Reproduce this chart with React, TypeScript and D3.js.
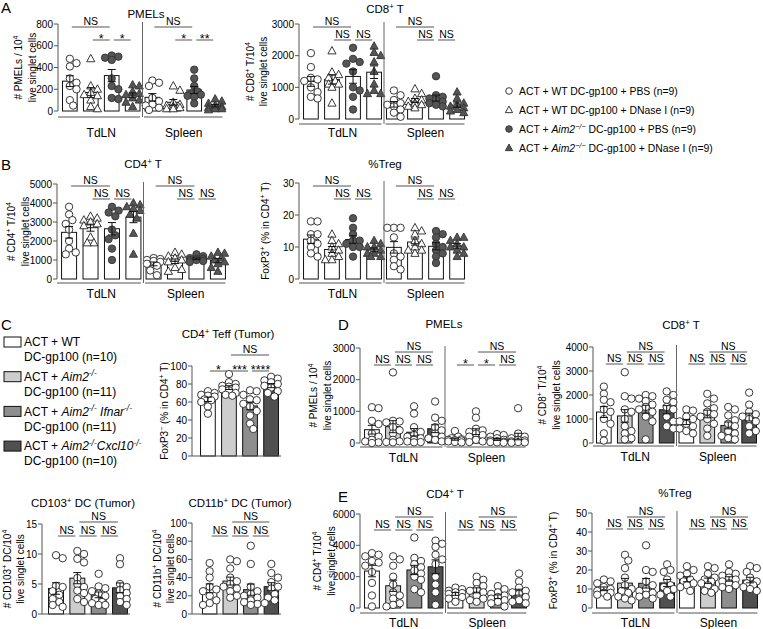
import React from 'react';
import * as d3 from 'd3';

const FONT = '"Liberation Sans", Arial, Helvetica, sans-serif';

// ---------- data (per bar: individual mice) ----------
// A: PMELs (# / 10^4 live singlet cells)
const aPmelTdLN = [
  [480, 440, 410, 300, 260, 230, 200, 100, 50],
  [480, 230, 200, 170, 150, 140, 100, 40, 20],
  [510, 500, 490, 470, 300, 230, 200, 120, 110],
  [240, 230, 180, 160, 150, 120, 100, 80, 40],
];
const aPmelSpleen = [
  [280, 260, 230, 120, 90, 60, 50, 30, 10],
  [230, 190, 80, 60, 50, 40, 30, 20, 20],
  [380, 300, 230, 180, 160, 150, 140, 130, 70],
  [110, 90, 70, 50, 40, 30, 20, 20, 10],
];
// A: CD8+ T
const aCd8TdLN = [
  [2080, 1640, 1300, 1250, 1200, 1000, 850, 700, 650],
  [2150, 1480, 1400, 1300, 1200, 1100, 1100, 1000, 500],
  [2250, 1900, 1800, 1750, 1500, 1000, 900, 700, 300],
  [2300, 2100, 2000, 1800, 1500, 1100, 900, 800, 800],
];
const aCd8Spleen = [
  [900, 750, 600, 500, 450, 400, 300, 200, 70],
  [950, 800, 650, 600, 550, 500, 450, 400, 350],
  [1350, 750, 700, 650, 600, 550, 500, 450, 400],
  [850, 650, 500, 450, 400, 350, 300, 250, 200],
];
// B: CD4+ T
const bCd4TdLN = [
  [3800, 3400, 3100, 2900, 2600, 2000, 1600, 1400, 1300],
  [3300, 3200, 3100, 3000, 2900, 2800, 2200, 1900, 1900],
  [3800, 3600, 3500, 3300, 2600, 2300, 2100, 1600, 1000],
  [4000, 3900, 3800, 3700, 3600, 3400, 3200, 2400, 1300],
];
const bCd4Spleen = [
  [1100, 1050, 1000, 950, 900, 800, 700, 450, 200],
  [1400, 1300, 1200, 1100, 1000, 900, 600, 500, 400],
  [1300, 1200, 1100, 1050, 1050, 1000, 1000, 950, 900],
  [1400, 1350, 1200, 1100, 1000, 900, 800, 600, 400],
];
// B: %Treg
const bTregTdLN = [
  [18, 18, 14, 14, 12, 11, 10, 8, 7],
  [14, 12, 11, 10, 9, 8, 7, 6, 6],
  [19, 16, 14, 12, 12, 11, 10, 10, 7],
  [12, 11, 10, 10, 9, 8, 8, 7, 7],
];
const bTregSpleen = [
  [16, 16, 16, 13, 8, 7, 6, 4, 3],
  [16, 15, 14, 12, 11, 10, 9, 9, 8],
  [15, 14, 13, 11, 10, 9, 8, 7, 5],
  [13, 13, 12, 11, 10, 10, 9, 8, 7],
];
// C: CD4+ Teff (Tumor), FoxP3- %
const cTeff = [
  [72, 70, 68, 67, 66, 63, 62, 60, 55, 47],
  [91, 82, 80, 78, 77, 76, 74, 73, 70, 68, 67],
  [73, 72, 68, 63, 62, 58, 55, 50, 45, 36, 30],
  [88, 86, 84, 82, 80, 78, 76, 72, 70, 66],
];
// C: CD103+ DC, CD11b+ DC (Tumor)
const cCd103 = [
  [9.8, 9.3, 4.7, 4.5, 3.8, 3.2, 2.5, 2.0, 1.5, 1.2],
  [10.5, 10.0, 9.2, 8.6, 6.0, 5.0, 4.5, 3.9, 3.5, 2.5, 2.0],
  [6.7, 4.6, 4.3, 3.8, 3.4, 3.0, 2.5, 2.0, 1.8, 1.5, 1.5],
  [9.3, 8.3, 5.0, 4.5, 4.0, 3.5, 3.0, 2.5, 2.0, 1.5],
];
const cCd11b = [
  [56, 47, 40, 30, 27, 25, 20, 15, 12, 10],
  [60, 58, 50, 40, 36, 33, 30, 28, 25, 20, 18],
  [75, 55, 30, 25, 22, 20, 18, 15, 13, 11, 10],
  [55, 45, 40, 35, 30, 28, 22, 18, 15, 12],
];
// D: PMELs, CD8+ T
const dPmelTdLN = [
  [1130, 1100, 700, 600, 300, 200, 100, 50, 20, 0],
  [2230, 700, 680, 650, 500, 400, 300, 100, 50, 30, 20],
  [1160, 930, 500, 350, 250, 200, 150, 100, 50, 30, 20],
  [1310, 800, 700, 500, 400, 300, 200, 150, 100, 50],
];
const dPmelSpleen = [
  [380, 200, 150, 120, 100, 90, 80, 50, 30, 20],
  [1000, 800, 450, 400, 350, 300, 250, 200, 100, 50, 30],
  [280, 250, 200, 150, 100, 80, 60, 40, 30, 20, 10],
  [1100, 300, 200, 150, 100, 80, 50, 30, 20, 10],
];
const dCd8TdLN = [
  [2350, 2050, 1800, 1700, 1400, 1300, 1000, 800, 400, 100],
  [2950, 1950, 1850, 1400, 1300, 1000, 700, 500, 400, 200, 150],
  [2000, 1950, 1850, 1750, 1600, 1500, 1400, 1300, 1100, 900, 150],
  [2150, 2000, 1800, 1700, 1500, 1400, 1100, 900, 700, 600],
];
const dCd8Spleen = [
  [1400, 1350, 1100, 1000, 900, 800, 700, 600, 500, 400],
  [2050, 1850, 1650, 1450, 1300, 1200, 1100, 1000, 800, 600, 300],
  [1500, 1400, 1150, 950, 800, 700, 500, 400, 300, 200, 150],
  [2100, 1600, 1300, 1200, 1100, 1000, 900, 700, 500, 400],
];
// E: CD4+ T, %Treg
const eCd4TdLN = [
  [3500, 3400, 3300, 3000, 2900, 2700, 2300, 1600, 800, 100],
  [3300, 3100, 2700, 2000, 1500, 1000, 800, 600, 300, 200, 100],
  [4500, 3200, 3000, 2800, 2600, 2400, 2200, 2000, 1800, 1200, 1000],
  [4300, 4100, 3900, 3400, 3100, 2800, 2000, 1500, 1000, 200],
];
const eCd4Spleen = [
  [1300, 1200, 1100, 1000, 950, 900, 800, 700, 600, 400],
  [2000, 1800, 1600, 1400, 1200, 1100, 1000, 800, 600, 500, 400],
  [1400, 1200, 1000, 900, 800, 700, 600, 500, 400, 300, 100],
  [2200, 1700, 1300, 1100, 1000, 900, 700, 500, 400, 300],
];
const eTregTdLN = [
  [15, 14, 13, 11, 10, 9, 8, 8, 7, 6],
  [28, 25, 21, 16, 12, 10, 9, 8, 6, 5, 4],
  [33, 20, 19, 14, 12, 10, 9, 8, 7, 6, 5],
  [23, 20, 19, 15, 12, 11, 10, 9, 7, 6],
];
const eTregSpleen = [
  [22, 20, 18, 17, 15, 14, 13, 12, 11, 9],
  [22, 21, 18, 16, 15, 14, 13, 12, 10, 9, 8],
  [23, 19, 18, 17, 16, 15, 14, 13, 12, 11, 10],
  [22, 21, 19, 16, 14, 13, 12, 11, 10, 9],
];

const groupNames = ['TdLN', 'Spleen'];
const legendAB = [
  'ACT + WT DC-gp100 + PBS (n=9)',
  'ACT + WT DC-gp100 + DNase I (n=9)',
  'ACT + _{Aim2}~{−/−} DC-gp100 + PBS (n=9)',
  'ACT + _{Aim2}~{−/−} DC-gp100 + DNase I (n=9)',
];
const legendC = [
  ['ACT + WT', 'DC-gp100 (n=10)'],
  ['ACT + _{Aim2}~{-/-}', 'DC-gp100 (n=11)'],
  ['ACT + _{Aim2}~{-/-}_{ Ifnar}~{-/-}', 'DC-gp100 (n=11)'],
  ['ACT + _{Aim2}~{-/-}_{Cxcl10}~{-/-}', 'DC-gp100 (n=10)'],
];
const markersAB = ['circle', 'tri', 'circleFill', 'triFill'];
const fillsC = ['#ffffff', '#cdcdcd', '#8e8e8e', '#505050'];

type Sig = [number, number, number, string, number]; // group, a, b, label, level

// significance sets
const sigAllNS_AB: Sig[] = [
  [0, 0, 2, 'NS', 1], [0, 1, 2, 'NS', 0], [0, 2, 3, 'NS', 0],
  [1, 0, 2, 'NS', 1], [1, 1, 2, 'NS', 0], [1, 2, 3, 'NS', 0],
];
const sigAllNS_DE: Sig[] = [
  [0, 0, 1, 'NS', 0], [0, 1, 2, 'NS', 0], [0, 2, 3, 'NS', 0], [0, 1, 3, 'NS', 1],
  [1, 0, 1, 'NS', 0], [1, 1, 2, 'NS', 0], [1, 2, 3, 'NS', 0], [1, 1, 3, 'NS', 1],
];
const sigSingleNS: Sig[] = [
  [0, 0, 1, 'NS', 0], [0, 1, 2, 'NS', 0], [0, 2, 3, 'NS', 0], [0, 1, 3, 'NS', 1],
];

// rich text: _{italic} ^{sup} ~{italic sup}
function rich(s: string, fs: number) {
  const parts = s.split(/(\^\{[^}]*\}|_\{[^}]*\}|~\{[^}]*\})/).filter(Boolean);
  let shifted = false;
  const up = fs * 0.38;
  return parts.map((p, i) => {
    if (p.startsWith('^{') || p.startsWith('~{')) {
      const dy = shifted ? 0 : -up;
      shifted = true;
      return (
        <tspan key={i} dy={dy} fontSize={fs * 0.7} fontStyle={p.startsWith('~') ? 'italic' : 'normal'}>
          {p.slice(2, -1)}
        </tspan>
      );
    }
    const dy = shifted ? up : 0;
    shifted = false;
    if (p.startsWith('_{'))
      return <tspan key={i} dy={dy} fontStyle="italic">{p.slice(2, -1)}</tspan>;
    return <tspan key={i} dy={dy}>{p}</tspan>;
  });
}

function Marker({ kind, x, y, r }: { kind: string; x: number; y: number; r: number }) {
  const filled = kind.endsWith('Fill');
  const fill = filled ? '#555' : '#fff';
  const stroke = filled ? '#333' : '#222';
  if (kind.startsWith('tri')) {
    const pts = [[x, y - r * 1.2], [x - r * 1.1, y + r * 0.8], [x + r * 1.1, y + r * 0.8]];
    return <polygon points={pts.map(p => p.join(',')).join(' ')} fill={fill} stroke={stroke} strokeWidth={0.9} />;
  }
  return <circle cx={x} cy={y} r={r} fill={fill} stroke={stroke} strokeWidth={0.9} />;
}

// beeswarm-like horizontal dodge
function dodge(ys: number[], r: number, maxOff: number) {
  const order = ys.map((y, i) => i).sort((a, b) => ys[a] - ys[b]);
  const xs: number[] = new Array(ys.length).fill(0);
  const placed: number[] = [];
  const step = r * 0.9;
  const cands = [0];
  for (let k = 1; k * step <= maxOff + 0.01; k++) cands.push(k * step, -k * step);
  order.forEach(i => {
    let best = 0, bestOv = Infinity;
    for (const c of cands) {
      let ov = 0;
      placed.forEach(j => {
        const d = Math.hypot(xs[j] - c, ys[j] - ys[i]);
        if (d < r * 1.6) ov += r * 1.6 - d;
      });
      if (ov < bestOv - 0.01) { bestOv = ov; best = c; }
      if (ov === 0) break;
    }
    xs[i] = best;
    placed.push(i);
  });
  return xs;
}

interface PanelDef {
  title: string; titleX: number; titleY: number;
  left: number; pad: number; right: number;
  yTop: number; yZero: number; max: number; ticks: number[];
  groups: number[][][]; two: boolean; kind: 'AB' | 'C';
  yLabel: string[]; yLabelX: number[];
  sig: Sig[]; sigY: number[];
  groupLineY?: number; groupLabelY?: number;
}

const panels: PanelDef[] = [
  { title: 'PMELs', titleX: 146, titleY: 14, left: 58, pad: 2, right: 225, yTop: 24, yZero: 111, max: 800,
    ticks: [0, 200, 400, 600, 800], groups: [aPmelTdLN, aPmelSpleen], two: true, kind: 'AB',
    yLabel: ['# PMELs / 10^{4}', 'live singlet cells'], yLabelX: [18, 32],
    sig: [[0, 0, 2, 'NS', 1], [0, 1, 2, '*', 0], [0, 2, 3, '*', 0], [1, 0, 2, 'NS', 1], [1, 1, 2, '*', 0], [1, 2, 3, '**', 0]],
    sigY: [40, 27], groupLineY: 117, groupLabelY: 133 },
  { title: 'CD8^{+} T', titleX: 385, titleY: 9, left: 299, pad: 2, right: 467, yTop: 24, yZero: 119, max: 3000,
    ticks: [0, 1000, 2000, 3000], groups: [aCd8TdLN, aCd8Spleen], two: true, kind: 'AB',
    yLabel: ['# CD8^{+} T/10^{4}', 'live singlet cells'], yLabelX: [250, 263],
    sig: sigAllNS_AB, sigY: [40, 27], groupLineY: 124, groupLabelY: 133 },
  { title: 'CD4^{+} T', titleX: 143, titleY: 164, left: 57, pad: 2, right: 228, yTop: 184, yZero: 279, max: 5000,
    ticks: [0, 1000, 2000, 3000, 4000, 5000], groups: [bCd4TdLN, bCd4Spleen], two: true, kind: 'AB',
    yLabel: ['# CD4^{+} T/10^{4}', 'live singlet cells'], yLabelX: [11, 25],
    sig: sigAllNS_AB, sigY: [199, 186], groupLineY: 283, groupLabelY: 294 },
  { title: '%Treg', titleX: 385, titleY: 164, left: 299, pad: 2, right: 467, yTop: 183, yZero: 279, max: 30,
    ticks: [0, 10, 20, 30], groups: [bTregTdLN, bTregSpleen], two: true, kind: 'AB',
    yLabel: ['FoxP3^{+} (% in CD4^{+} T)'], yLabelX: [265],
    sig: sigAllNS_AB, sigY: [199, 186], groupLineY: 283, groupLabelY: 294 },
  { title: 'CD4^{+} Teff (Tumor)', titleX: 228, titleY: 334, left: 192, pad: 6, right: 281, yTop: 366, yZero: 456, max: 100,
    ticks: [0, 20, 40, 60, 80, 100], groups: [cTeff], two: false, kind: 'C',
    yLabel: ['FoxP3^{−} (% in CD4^{+} T)'], yLabelX: [164],
    sig: [[0, 0, 1, '*', 0], [0, 1, 2, '***', 0], [0, 2, 3, '****', 0], [0, 1, 3, 'NS', 1]], sigY: [371, 355] },
  { title: 'PMELs', titleX: 444, titleY: 324, left: 360, pad: 2, right: 528, yTop: 348, yZero: 443, max: 3000,
    ticks: [0, 1000, 2000, 3000], groups: [dPmelTdLN, dPmelSpleen], two: true, kind: 'C',
    yLabel: ['# PMELs / 10^{4}', 'live singlet cells'], yLabelX: [313, 327],
    sig: [[0, 0, 1, 'NS', 0], [0, 1, 2, 'NS', 0], [0, 2, 3, 'NS', 0], [0, 1, 3, 'NS', 1],
          [1, 0, 1, '*', 0], [1, 1, 2, '*', 0], [1, 2, 3, 'NS', 0], [1, 1, 3, 'NS', 1]],
    sigY: [365, 352], groupLineY: 447, groupLabelY: 458 },
  { title: 'CD8^{+} T', titleX: 681, titleY: 325, left: 593, pad: 1, right: 759, yTop: 347, yZero: 443, max: 4000,
    ticks: [0, 1000, 2000, 3000, 4000], groups: [dCd8TdLN, dCd8Spleen], two: true, kind: 'C',
    yLabel: ['# CD8^{+} T/10^{4}', 'live singlet cells'], yLabelX: [542, 556],
    sig: sigAllNS_DE, sigY: [364, 352], groupLineY: 446, groupLabelY: 457 },
  { title: 'CD103^{+} DC (Tumor)', titleX: 83, titleY: 503, left: 42, pad: 4, right: 130, yTop: 524, yZero: 614, max: 15,
    ticks: [0, 5, 10, 15], groups: [cCd103], two: false, kind: 'C',
    yLabel: ['# CD103^{+} DC/10^{4}', 'live singlet cells'], yLabelX: [7, 20],
    sig: sigSingleNS, sigY: [536, 522] },
  { title: 'CD11b^{+} DC (Tumor)', titleX: 240, titleY: 503, left: 192, pad: 8, right: 281, yTop: 523, yZero: 614, max: 100,
    ticks: [0, 20, 40, 60, 80, 100], groups: [cCd11b], two: false, kind: 'C',
    yLabel: ['# CD11b^{+} DC/10^{4}', 'live singlet cells'], yLabelX: [157, 170],
    sig: sigSingleNS, sigY: [536, 522] },
  { title: 'CD4^{+} T', titleX: 445, titleY: 494, left: 360, pad: 2, right: 529, yTop: 514, yZero: 608, max: 6000,
    ticks: [0, 2000, 4000, 6000], groups: [eCd4TdLN, eCd4Spleen], two: true, kind: 'C',
    yLabel: ['# CD4^{+} T/10^{4}', 'live singlet cells'], yLabelX: [317, 331],
    sig: sigAllNS_DE, sigY: [530, 517], groupLineY: 613, groupLabelY: 623 },
  { title: '%Treg', titleX: 675, titleY: 493, left: 592, pad: 2, right: 760, yTop: 513, yZero: 608, max: 50,
    ticks: [0, 10, 20, 30, 40, 50], groups: [eTregTdLN, eTregSpleen], two: true, kind: 'C',
    yLabel: ['FoxP3^{+} (% in CD4^{+} T)'], yLabelX: [553],
    sig: sigAllNS_DE, sigY: [529, 517], groupLineY: 613, groupLabelY: 623 },
];

const AXIS = '#555';
const TICK_FS = 10;
const LABEL_FS = 10;
const TITLE_FS = 11.5;

function Panel({ p }: { p: PanelDef }) {
  const y = d3.scaleLinear().domain([0, p.max]).range([p.yZero, p.yTop]);
  const gNames = p.two ? groupNames : ['all'];
  const gx = d3.scaleBand().domain(gNames).range([p.left + p.pad, p.right]);
  const bx = d3.scaleBand<number>().domain([0, 1, 2, 3]).range([0, gx.bandwidth()]).paddingInner(0.3).paddingOuter(0.12);
  const bw = bx.bandwidth();
  const cx = (g: number, i: number) => (gx(gNames[g]) || 0) + (bx(i) || 0) + bw / 2;
  const r = 3.7;
  const midY = (p.yTop + p.yZero) / 2;

  return (
    <g fontFamily={FONT}>
      {/* title */}
      <text x={p.titleX} y={p.titleY + 4} textAnchor="middle" fontSize={TITLE_FS}>{rich(p.title, TITLE_FS)}</text>
      {/* y label */}
      {p.yLabel.map((l, i) => (
        <text key={i} transform={`translate(${p.yLabelX[i] + 4},${midY}) rotate(-90)`} textAnchor="middle" fontSize={LABEL_FS}>
          {rich(l, LABEL_FS)}
        </text>
      ))}
      {/* y axis */}
      <line x1={p.left} x2={p.left} y1={p.yTop} y2={p.yZero} stroke={AXIS} strokeWidth={1} />
      {p.ticks.map(t => (
        <g key={t}>
          <line x1={p.left - 4} x2={p.left} y1={y(t)} y2={y(t)} stroke={AXIS} />
          <text x={p.left - 5} y={y(t) + 3.6} textAnchor="end" fontSize={TICK_FS}>{t}</text>
        </g>
      ))}
      {/* bars, points, error bars */}
      {p.groups.map((gd, g) => gd.map((vals, i) => {
        const m = d3.mean(vals) || 0;
        const sem = (d3.deviation(vals) || 0) / Math.sqrt(vals.length);
        const c = cx(g, i);
        const ys = vals.map(v => y(v));
        const xs = dodge(ys, r, bw / 2);
        const fill = p.kind === 'AB' ? '#fff' : fillsC[i];
        const mk = p.kind === 'AB' ? markersAB[i] : 'circle';
        return (
          <g key={`${g}-${i}`}>
            <rect x={c - bw / 2} y={y(m)} width={bw} height={p.yZero - y(m)} fill={fill} stroke="#111" strokeWidth={1} />
            {vals.map((v, k) => <Marker key={k} kind={mk} x={c + xs[k]} y={ys[k]} r={r} />)}
            <g stroke="#111" strokeWidth={1}>
              <line x1={c} x2={c} y1={y(m - sem)} y2={y(m + sem)} />
              <line x1={c - 4} x2={c + 4} y1={y(m + sem)} y2={y(m + sem)} />
              <line x1={c - 4} x2={c + 4} y1={y(m - sem)} y2={y(m - sem)} />
            </g>
          </g>
        );
      }))}
      {/* group lines and labels */}
      {p.two ? (
        <g>
          <line x1={gx('Spleen')} x2={gx('Spleen')} y1={p.yTop - 2} y2={p.groupLineY} stroke="#666" />
          {gNames.map((gn, g) => {
            const x1 = g === 0 ? p.left : cx(g, 0) - bw / 2 - 1;
            const x2 = cx(g, 3) + bw / 2;
            return (
              <g key={gn}>
                <line x1={x1} x2={x2} y1={p.groupLineY} y2={p.groupLineY} stroke={AXIS} />
                <text x={(cx(g, 0) + cx(g, 3)) / 2} y={(p.groupLabelY || 0) + 4.3} textAnchor="middle" fontSize={12}>{gn}</text>
              </g>
            );
          })}
        </g>
      ) : (
        <line x1={p.left} x2={p.right} y1={p.yZero} y2={p.yZero} stroke={AXIS} />
      )}
      {/* significance */}
      {p.sig.map(([g, a, b, lab, lvl], k) => {
        const ly = p.sigY[lvl];
        const x1 = cx(g, a) + 2, x2 = cx(g, b) - 2;
        const star = lab !== 'NS';
        return (
          <g key={k}>
            <line x1={x1} x2={x2} y1={ly} y2={ly} stroke="#555" />
            <text x={(x1 + x2) / 2} y={star ? ly + 2.5 : ly - 2} textAnchor="middle" fontSize={star ? 12.5 : 10.5}>{lab}</text>
          </g>
        );
      })}
    </g>
  );
}

export default function App() {
  return (
    <svg width={763} height={629} style={{ position: 'absolute', left: 0, top: 0, background: '#fff' }} fontFamily={FONT}>
      <rect width={763} height={629} fill="#fff" />
      {/* panel letters */}
      <g fontSize={15}>
        <text x={1} y={13}>A</text>
        <text x={1} y={170}>B</text>
        <text x={1} y={330}>C</text>
        <text x={338} y={330}>D</text>
        <text x={338} y={502}>E</text>
      </g>
      {panels.map((p, i) => <Panel key={i} p={p} />)}
      {/* legend A/B */}
      {legendAB.map((l, i) => {
        const yy = 91 + i * 19;
        return (
          <g key={i}>
            <Marker kind={markersAB[i]} x={509} y={yy} r={3.3} />
            <text x={519} y={yy + 3.7} fontSize={10.4}>{rich(l, 10.4)}</text>
          </g>
        );
      })}
      {/* legend C */}
      {legendC.map((l, i) => {
        const yy = 342 + i * 34.7;
        return (
          <g key={i}>
            <rect x={4} y={yy - 5} width={17} height={10} fill={fillsC[i]} stroke="#111" />
            <text x={24} y={yy + 4.3} fontSize={12}>{rich(l[0], 12)}</text>
            <text x={24} y={yy + 19.3} fontSize={12}>{l[1]}</text>
          </g>
        );
      })}
    </svg>
  );
}
